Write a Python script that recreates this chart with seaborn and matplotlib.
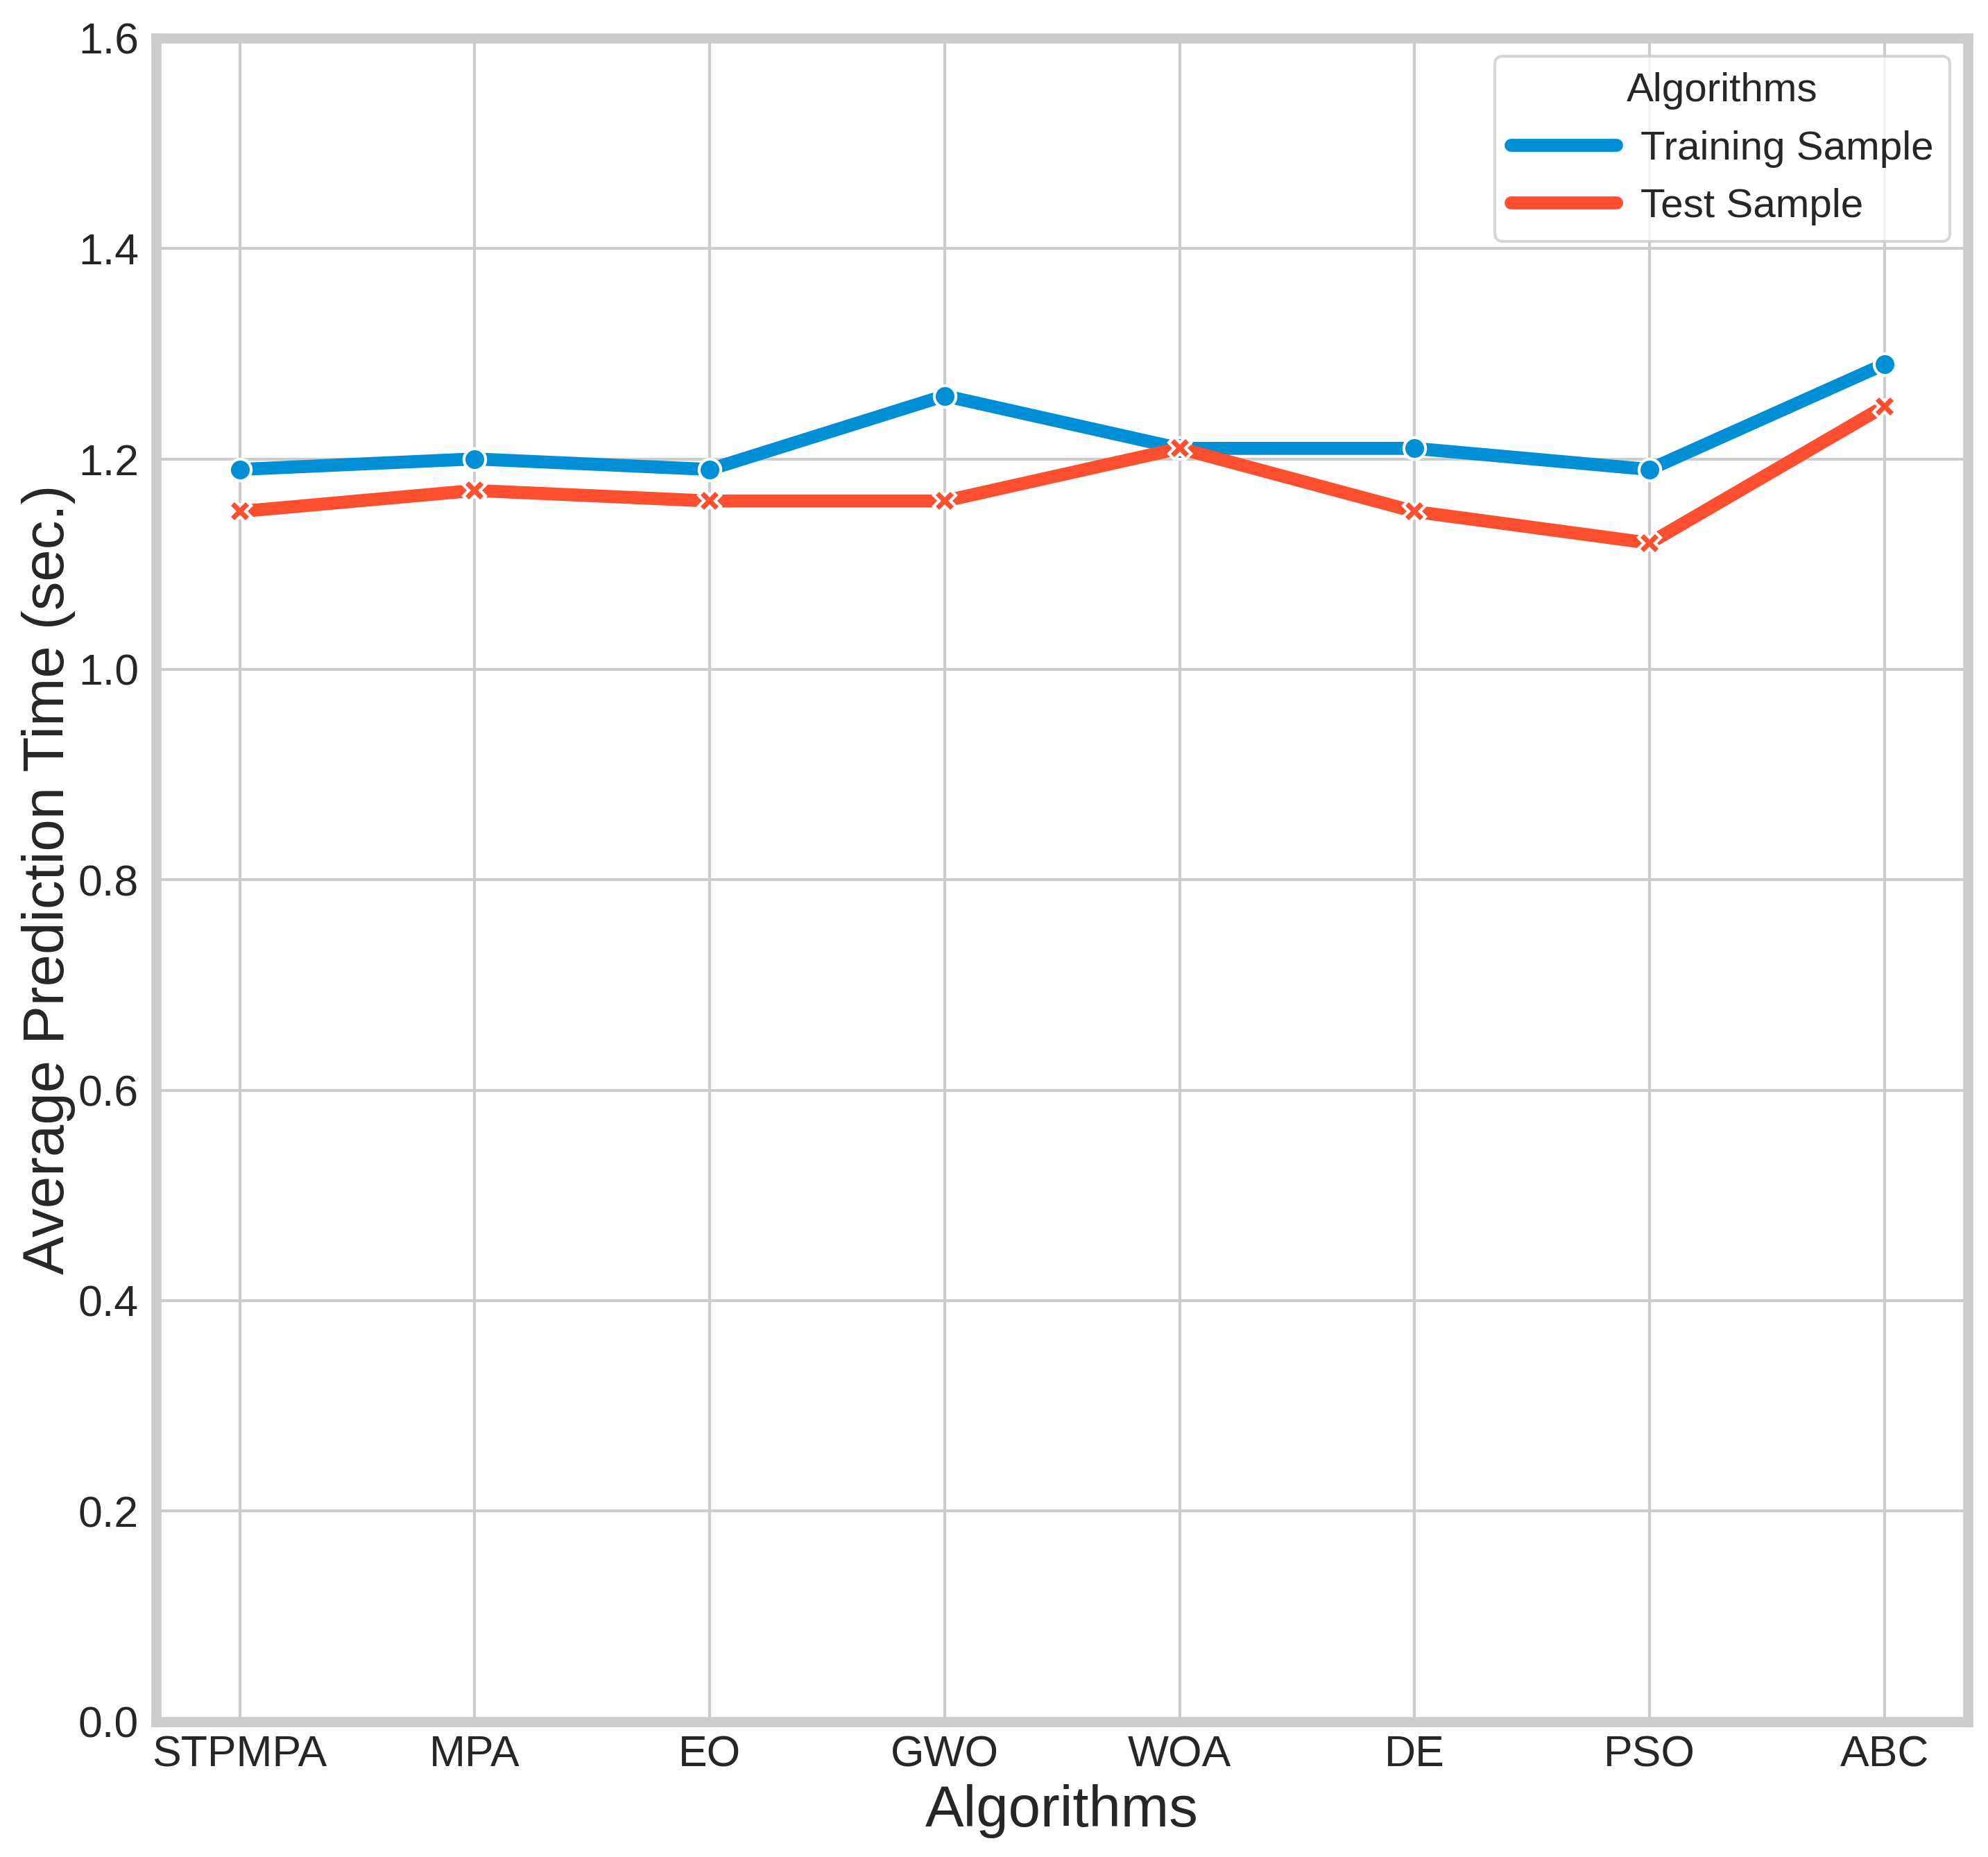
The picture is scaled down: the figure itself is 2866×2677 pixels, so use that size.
import matplotlib
matplotlib.use("Agg")
import matplotlib.pyplot as plt
from matplotlib.lines import Line2D
import pandas as pd
import seaborn as sns

algorithms = ["STPMPA", "MPA", "EO", "GWO", "WOA", "DE", "PSO", "ABC"]
training_time = [1.19, 1.20, 1.19, 1.26, 1.21, 1.21, 1.19, 1.29]
test_time = [1.15, 1.17, 1.16, 1.16, 1.21, 1.15, 1.12, 1.25]
series_names = ["Training Sample", "Test Sample"]
series_colors = ["#008fd5", "#fc4f30"]
y_ticks = [0.0, 0.2, 0.4, 0.6, 0.8, 1.0, 1.2, 1.4, 1.6]


def main() -> None:
	sns.set_theme(style="whitegrid")
	plt.rcParams["font.family"] = ["Liberation Sans", "DejaVu Sans"]
	plt.rcParams["grid.color"] = "#cccccc"
	plt.rcParams["grid.linewidth"] = 1.0

	df = pd.DataFrame(
		{
			"Algorithm": algorithms * 2,
			"Time": training_time + test_time,
			"Sample": [series_names[0]] * len(algorithms) + [series_names[1]] * len(algorithms),
		}
	)

	fig = plt.figure(figsize=(2866 / 300, 2677 / 300), dpi=300)
	ax = fig.add_axes([0.0785, 0.073, 0.9115, 0.9065])

	sns.lineplot(
		data=df,
		x="Algorithm",
		y="Time",
		hue="Sample",
		style="Sample",
		markers=["o", "X"],
		dashes=False,
		palette=series_colors,
		linewidth=4.5,
		markersize=7.5,
		markeredgecolor="white",
		markeredgewidth=1,
		ax=ax,
		legend=False,
	)

	ax.set_xlim(-0.356, len(algorithms) - 1 + 0.356)
	ax.set_ylim(0, 1.6)
	ax.set_yticks(y_ticks)
	ax.set_yticklabels([f"{t:.1f}" for t in y_ticks])
	ax.tick_params(axis="both", labelsize=15, colors="#262626")
	ax.tick_params(axis="x", pad=-1.5)
	ax.tick_params(axis="y", pad=0)
	ax.set_xlabel("Algorithms", fontsize=20, color="#262626", labelpad=3)
	ax.set_ylabel("Average Prediction Time (sec.)", fontsize=20, color="#262626", labelpad=1)

	for spine in ax.spines.values():
		spine.set_color("#cccccc")
		spine.set_linewidth(3.5)

	handles = [Line2D([0], [0], color=c, linewidth=4.5, solid_capstyle="round") for c in series_colors]
	leg = ax.legend(
		handles,
		series_names,
		title="Algorithms",
		loc="upper right",
		fontsize=14,
		title_fontsize=14,
		frameon=True,
		borderaxespad=0.45,
		handlelength=2.6,
		handletextpad=0.6,
	)
	leg.get_frame().set_edgecolor("#cccccc")
	leg.get_frame().set_linewidth(1.0)

	fig.savefig("out.png", dpi=300)
	plt.close(fig)


if __name__ == "__main__":
	main()
